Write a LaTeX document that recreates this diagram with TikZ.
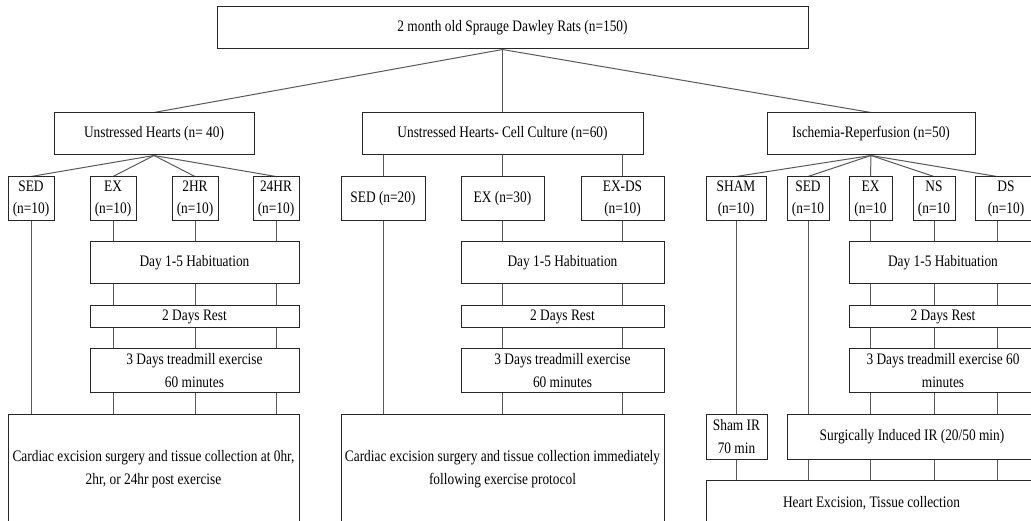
\documentclass[tikz,border=0pt]{standalone}
\usepackage{fontspec}
\setmainfont[FakeStretch=0.835]{Liberation Serif}
\usepackage{tikz}
\usetikzlibrary{backgrounds}
\tikzset{
  box/.style={draw=black!85, line width=1pt, fill=white, inner sep=0pt, align=center,
    font=\fontsize{16}{22.5}\selectfont},
  link/.style={draw=black!65, line width=1pt}
}

\begin{document}
\begin{tikzpicture}[x=1pt, y=-1pt]
\useasboundingbox (0,0) rectangle (1031,521);
\clip (0,0) rectangle (1031,521);
\node (rats) [box, minimum width=591, minimum height=42] at (512.5,28) {2 month old Sprauge Dawley Rats (n=150)};
\node (unst) [box, minimum width=200, minimum height=42] at (154,134) {Unstressed Hearts (n= 40)};
\node (cult) [box, minimum width=281, minimum height=42] at (502.5,134) {Unstressed Hearts- Cell Culture (n=60)};
\node (isch) [box, minimum width=208, minimum height=42] at (871,134) {Ischemia-Reperfusion (n=50)};
% unstressed hearts
\node (sedA) [box, minimum width=46, minimum height=44] at (31,199) {SED\\(n=10)};
\node (exA) [box, minimum width=46, minimum height=44] at (113,199) {EX\\(n=10)};
\node (twoA) [box, minimum width=46, minimum height=44] at (195,199) {2HR\\(n=10)};
\node (dayA) [box, minimum width=46, minimum height=44] at (276,199) {24HR\\(n=10)};
\node (habA) [box, minimum width=209, minimum height=42] at (194.5,263) {Day 1-5 Habituation};
\node (restA) [box, minimum width=209, minimum height=22] at (194.5,317) {2 Days Rest};
\node (runA) [box, minimum width=209, minimum height=43] at (194.5,370.5) {3 Days treadmill exercise\\60 minutes};
\node (cardA) [box, minimum width=291, minimum height=110] at (153.5,469) {Cardiac excision surgery and tissue collection at 0hr,\\2hr, or 24hr post exercise};
% cell culture
\node (sedB) [box, minimum width=84, minimum height=44] at (383,199) {SED (n=20)};
\node (exB) [box, minimum width=83, minimum height=44] at (502.5,199) {EX (n=30)};
\node (dsB) [box, minimum width=83, minimum height=44] at (622.5,199) {EX-DS\\(n=10)};
\node (habB) [box, minimum width=203, minimum height=42] at (562.5,263) {Day 1-5 Habituation};
\node (restB) [box, minimum width=203, minimum height=22] at (562.5,317) {2 Days Rest};
\node (runB) [box, minimum width=203, minimum height=43] at (562.5,370.5) {3 Days treadmill exercise\\60 minutes};
\node (cardB) [box, minimum width=323, minimum height=110] at (502.5,469) {Cardiac excision surgery and tissue collection immediately\\following exercise protocol};
% ischemia-reperfusion
\node (shamC) [box, minimum width=60, minimum height=44] at (736,199) {SHAM\\(n=10)};
\node (sedC) [box, minimum width=42, minimum height=44] at (808,199) {SED\\(n=10};
\node (exC) [box, minimum width=43, minimum height=44] at (870.5,199) {EX\\(n=10};
\node (nsC) [box, minimum width=42, minimum height=44] at (934,199) {NS\\(n=10};
\node (dsC) [box, minimum width=62, minimum height=44] at (1006,199) {DS\\(n=10)};
\node (habC) [box, minimum width=188, minimum height=42] at (943,263) {Day 1-5 Habituation};
\node (restC) [box, minimum width=188, minimum height=22] at (943,317) {2 Days Rest};
\node (runC) [box, minimum width=188, minimum height=43] at (943,370.5) {3 Days treadmill exercise 60\\minutes};
\node (shamIR) [box, minimum width=61, minimum height=45] at (736.5,436.5) {Sham IR\\70 min};
\node (surgC) [box, minimum width=250, minimum height=45] at (912,436.5) {Surgically Induced IR (20/50 min)};
\node (heartC) [box, minimum width=331, minimum height=46] at (871.5,503) {Heart Excision, Tissue collection};
\coordinate (dsline) at ([xshift=-9]dsC.north);

\begin{pgfonlayer}{background}
\draw[link] (cult.north |- rats.south) -- (unst.north);
\draw[link] (cult.north |- rats.south) -- (cult.north);
\draw[link] (cult.north |- rats.south) -- (isch.north);
\foreach \g in {sedA,exA,twoA,dayA} {
  \draw[link] (unst.south) -- (\g.north);
  \draw[link] (\g.south) -- (\g |- cardA.north);
}
\foreach \g in {sedB,exB,dsB} {
  \draw[link] (\g |- cult.south) -- (\g.north);
  \draw[link] (\g.south) -- (\g |- cardB.north);
}
\foreach \g in {shamC,sedC,exC,nsC} {
  \draw[link] (isch.south) -- (\g.north);
  \draw[link] (\g.south) -- (\g |- heartC.north);
}
\draw[link] (isch.south) -- (dsline);
\draw[link] (dsline) -- (dsline |- heartC.north);
\end{pgfonlayer}
\end{tikzpicture}
\end{document}
